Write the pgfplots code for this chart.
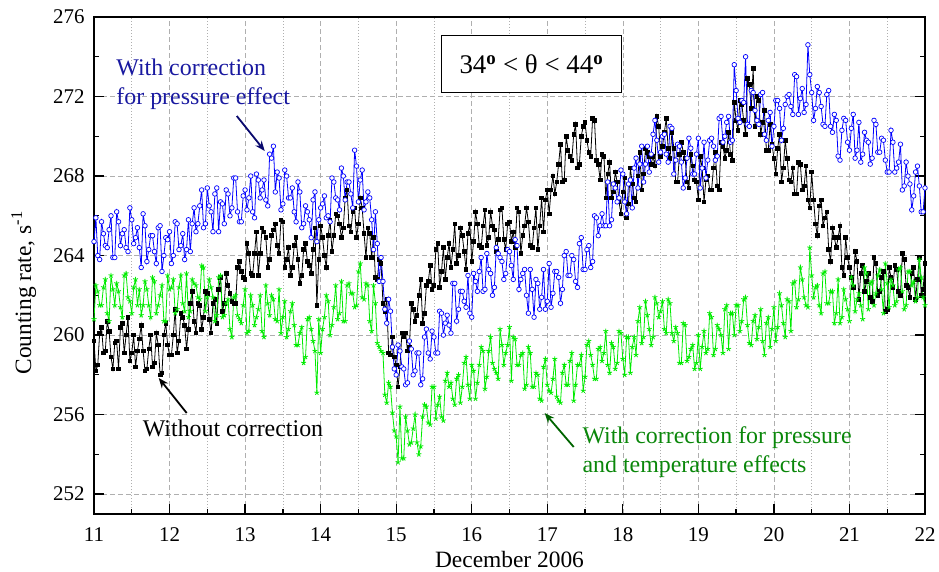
\documentclass[border=0pt]{standalone}
\usepackage{pgfplots}
\pgfplotsset{compat=1.18}
\usepackage{pgfplotstable}
\usepackage{fontspec}
\setmainfont{Liberation Serif}
\usetikzlibrary{arrows.meta}
\definecolor{gridgray}{RGB}{175,175,175}
\definecolor{annblue}{RGB}{25,25,160}
\definecolor{arrblue}{RGB}{10,10,110}
\definecolor{anngreen}{RGB}{10,135,10}
\definecolor{arrgreen}{RGB}{0,100,0}
\definecolor{serblue}{RGB}{0,0,255}
\definecolor{sergreen}{RGB}{0,235,0}

\pgfplotstableread{
x b u g
11.000 259.7 264.7 260.8
11.025 258.2 265.9 262.5
11.050 258.5 264.0 262.2
11.075 260.1 263.8 261.5
11.100 260.4 265.7 261.5
11.125 259.1 265.1 262.4
11.150 259.2 264.5 262.8
11.175 260.7 264.4 261.1
11.200 260.2 265.3 260.7
11.225 258.9 266.0 263.0
11.250 258.3 263.9 262.3
11.275 259.6 263.9 261.5
11.300 259.7 266.2 262.6
11.325 258.3 265.7 262.2
11.350 260.4 264.5 261.4
11.375 260.6 265.1 260.9
11.400 259.1 265.3 263.0
11.425 260.0 264.4 263.1
11.450 260.9 264.2 261.9
11.475 258.7 266.4 261.7
11.500 259.1 265.8 261.1
11.525 260.0 264.6 262.4
11.550 258.4 264.9 262.8
11.575 259.2 265.4 261.5
11.600 259.8 264.4 262.3
11.625 260.5 263.4 261.0
11.650 259.2 266.1 261.5
11.675 258.2 265.5 262.7
11.700 258.3 263.7 262.3
11.725 259.3 264.3 261.5
11.750 260.0 265.0 260.9
11.775 258.4 265.0 262.9
11.800 258.6 264.2 262.7
11.825 260.1 263.6 261.1
11.850 259.5 265.4 261.5
11.875 258.0 265.5 262.0
11.900 258.1 263.2 262.5
11.925 260.0 264.0 260.7
11.950 260.6 264.9 260.7
11.975 259.5 264.8 263.0
12.000 259.0 265.2 262.3
12.025 259.0 263.6 262.4
12.050 260.0 264.0 262.8
12.075 261.3 265.7 261.1
12.100 259.1 265.6 261.3
12.125 259.7 264.3 262.4
12.150 261.1 264.5 263.0
12.175 260.9 265.1 261.6
12.200 260.5 263.8 261.2
12.225 259.3 264.3 263.1
12.250 260.3 265.8 260.9
12.275 261.6 264.2 261.2
12.300 262.2 265.6 262.8
12.325 260.7 266.4 262.6
12.350 260.1 265.2 262.5
12.375 261.6 265.6 261.9
12.400 261.5 266.5 261.8
12.425 260.3 267.3 263.5
12.450 260.9 265.4 263.4
12.475 262.2 265.6 261.2
12.500 262.1 267.4 261.9
12.525 260.8 266.5 262.8
12.550 260.1 266.2 262.4
12.575 261.6 265.2 261.9
12.600 261.8 267.1 260.7
12.625 260.6 267.4 261.0
12.650 262.3 265.2 262.9
12.675 262.9 266.7 263.0
12.700 261.2 266.6 260.9
12.725 261.6 265.6 261.0
12.750 263.1 267.3 261.6
12.775 262.5 267.1 261.8
12.800 262.1 266.0 260.3
12.825 261.7 266.4 259.9
12.850 261.6 267.9 261.9
12.875 261.6 267.9 262.0
12.900 263.4 266.2 261.0
12.925 263.7 265.7 260.8
12.950 263.2 265.7 260.6
12.975 262.9 267.0 261.5
13.000 262.8 267.3 262.3
13.025 264.6 266.3 260.1
13.050 264.1 266.9 260.2
13.075 263.1 268.0 262.0
13.100 263.0 266.2 261.5
13.125 264.1 265.9 260.5
13.150 265.2 268.1 260.9
13.175 263.0 267.8 261.3
13.200 264.1 266.9 262.0
13.225 265.4 267.3 260.2
13.250 265.2 267.8 259.9
13.275 264.9 266.8 262.5
13.300 263.4 266.5 261.6
13.325 263.8 269.1 261.0
13.350 265.0 268.9 262.0
13.375 265.3 269.5 261.8
13.400 265.6 267.2 260.8
13.425 264.5 268.2 260.7
13.450 264.1 267.9 262.3
13.475 265.8 266.3 260.1
13.500 265.7 266.6 260.9
13.525 263.4 268.3 261.7
13.550 263.8 268.0 259.9
13.575 264.4 266.9 260.3
13.600 263.0 266.9 261.2
13.625 263.4 267.4 261.6
13.650 264.5 266.2 260.5
13.675 264.9 265.7 259.5
13.700 263.8 267.7 259.5
13.725 262.6 267.2 260.1
13.750 263.0 265.4 260.4
13.775 264.3 265.6 258.6
13.800 264.6 266.5 258.9
13.825 263.7 266.2 260.8
13.850 263.5 265.8 260.9
13.875 263.1 264.9 260.3
13.900 264.3 266.8 259.7
13.925 265.4 267.2 259.2
13.950 261.5 264.7 257.1
13.975 263.8 265.8 260.8
14.000 265.5 266.4 259.1
14.025 264.9 266.6 260.3
14.050 264.0 267.0 260.9
14.075 263.4 265.9 262.0
14.100 265.0 266.0 261.7
14.125 265.8 265.7 260.0
14.150 264.2 267.9 260.5
14.175 265.0 267.7 261.4
14.200 266.1 266.9 262.5
14.225 266.0 266.8 260.8
14.250 265.6 266.3 261.1
14.275 264.9 268.4 262.7
14.300 265.4 268.0 260.7
14.325 266.9 266.8 260.7
14.350 267.3 267.7 262.5
14.375 265.5 267.7 262.6
14.400 265.2 267.1 262.1
14.425 266.2 266.4 262.1
14.450 266.4 269.3 261.4
14.475 264.9 268.5 261.5
14.500 265.6 266.7 263.2
14.525 266.9 267.8 263.6
14.550 266.4 268.3 261.9
14.575 265.1 266.3 261.8
14.600 263.9 266.7 262.6
14.625 265.4 267.2 262.5
14.650 265.1 266.9 260.7
14.675 263.9 265.8 260.2
14.700 264.9 264.3 262.5
14.725 262.9 266.2 261.6
14.750 262.8 264.6 259.6
14.775 263.8 262.7 259.4
14.800 263.6 263.9 259.2
14.825 261.6 262.7 259.1
14.850 261.2 261.3 257.0
14.875 261.8 260.6 256.6
14.900 259.1 261.8 257.6
14.925 259.0 261.2 257.4
14.950 259.9 259.4 256.1
14.975 258.9 258.3 255.2
15.000 258.5 258.0 254.9
15.025 257.4 259.5 253.6
15.050 258.4 259.2 256.4
15.075 260.1 258.4 253.8
15.100 259.9 258.3 253.8
15.125 260.1 257.5 255.9
15.150 259.2 257.6 255.2
15.175 259.4 259.7 254.5
15.200 261.6 259.3 254.6
15.225 261.3 258.0 255.3
15.250 260.7 258.2 256.0
15.275 261.0 259.1 254.6
15.300 262.0 259.1 254.0
15.325 262.8 257.5 254.4
15.350 260.6 257.8 255.9
15.375 261.1 259.9 256.5
15.400 262.5 260.3 256.4
15.425 262.7 259.1 255.6
15.450 263.5 258.8 255.5
15.475 262.3 260.2 257.4
15.500 262.5 259.9 257.4
15.525 264.3 259.1 255.8
15.550 264.6 259.1 256.5
15.575 262.4 261.2 256.9
15.600 263.2 261.1 255.9
15.625 264.4 260.0 255.7
15.650 262.8 260.6 257.7
15.675 263.9 261.0 258.1
15.700 264.6 260.5 257.4
15.725 263.4 260.1 257.6
15.750 264.3 262.6 256.8
15.775 265.6 262.6 256.5
15.800 263.6 260.7 257.8
15.825 264.0 261.3 258.0
15.850 265.4 262.2 256.6
15.875 265.0 262.2 257.4
15.900 264.2 261.7 258.6
15.925 263.3 261.4 258.9
15.950 265.1 263.0 257.5
15.975 265.6 261.1 256.8
16.000 263.7 260.9 258.5
16.025 264.7 263.1 258.2
16.050 266.2 262.7 256.8
16.075 265.6 262.2 257.6
16.100 264.5 263.2 258.5
16.125 264.4 263.9 259.4
16.150 265.5 262.2 259.2
16.175 266.3 262.3 257.3
16.200 264.5 264.1 257.9
16.225 264.9 263.3 259.2
16.250 266.2 263.1 259.9
16.275 265.5 262.0 258.6
16.300 265.3 262.4 258.3
16.325 264.2 264.4 258.1
16.350 264.8 264.1 257.8
16.375 266.3 263.9 260.3
16.400 266.4 263.7 259.5
16.425 264.8 262.8 258.5
16.450 264.3 263.1 259.1
16.475 265.6 264.3 259.5
16.500 265.7 264.2 260.4
16.525 264.7 263.5 257.7
16.550 265.2 262.8 259.9
16.575 264.4 264.8 259.8
16.600 266.4 264.5 258.5
16.625 266.2 262.3 258.5
16.650 264.1 262.8 259.0
16.675 265.0 263.1 259.1
16.700 265.5 263.3 257.3
16.725 266.4 262.0 257.5
16.750 265.7 261.1 259.4
16.775 264.5 263.3 259.1
16.800 264.4 262.3 257.4
16.825 265.4 260.9 257.4
16.850 266.4 262.8 258.1
16.875 264.3 262.6 258.0
16.900 265.5 261.3 256.8
16.925 266.9 261.9 256.7
16.950 265.2 263.3 258.4
16.975 266.8 261.3 258.8
17.000 267.3 261.7 257.5
17.025 266.1 263.6 257.2
17.050 267.3 261.4 257.1
17.075 268.0 262.1 257.8
17.100 267.1 263.2 258.8
17.125 267.7 263.2 256.9
17.150 268.6 262.9 256.7
17.175 269.6 261.6 256.6
17.200 267.7 262.3 258.1
17.225 267.8 264.0 258.5
17.250 270.0 264.2 257.5
17.275 269.3 263.0 257.5
17.300 269.0 263.0 258.7
17.325 268.8 264.0 259.1
17.350 270.1 263.8 256.7
17.375 270.6 262.7 257.5
17.400 268.4 262.4 258.5
17.425 268.6 264.6 258.5
17.450 270.0 264.9 259.0
17.475 270.5 263.3 257.2
17.500 270.7 263.3 257.9
17.525 269.8 264.3 259.5
17.550 269.2 264.5 259.7
17.575 269.0 263.4 259.0
17.600 270.9 263.7 258.5
17.625 270.8 266.0 257.8
17.650 268.8 265.9 257.8
17.675 268.6 265.0 259.3
17.700 267.8 265.5 259.4
17.725 269.1 266.1 258.7
17.750 269.0 265.5 259.1
17.775 266.9 265.5 260.2
17.800 268.1 267.7 258.5
17.825 268.7 265.5 258.1
17.850 266.9 265.8 259.6
17.875 267.2 267.6 259.4
17.900 268.2 267.4 258.3
17.925 267.7 266.7 258.6
17.950 266.7 266.9 260.2
17.975 266.1 268.3 260.1
18.000 267.2 268.1 258.8
18.025 267.9 266.7 258.0
18.050 265.9 266.1 259.9
18.075 266.6 267.6 259.9
18.100 268.4 267.8 258.1
18.125 267.6 266.4 259.4
18.150 266.9 268.4 259.9
18.175 266.7 268.9 259.0
18.200 268.0 267.4 260.7
18.225 269.2 268.6 261.4
18.250 267.3 269.5 259.6
18.275 268.1 267.7 259.9
18.300 269.4 268.6 261.7
18.325 269.2 269.5 261.0
18.350 269.0 268.2 260.3
18.375 268.6 269.1 259.5
18.400 269.0 270.1 259.9
18.425 268.5 270.8 261.9
18.450 271.0 269.8 261.6
18.475 270.5 268.7 260.9
18.500 269.0 269.2 261.2
18.525 269.5 270.0 261.7
18.550 270.2 270.1 260.3
18.575 270.9 269.1 260.1
18.600 269.4 268.7 261.8
18.625 268.9 270.5 261.6
18.650 270.2 270.4 260.1
18.675 269.4 268.1 259.7
18.700 267.7 268.8 260.4
18.725 267.7 269.6 260.1
18.750 269.1 269.5 258.6
18.775 269.7 268.7 258.6
18.800 269.2 267.4 260.6
18.825 268.9 267.9 260.5
18.850 267.7 268.9 258.7
18.875 267.4 269.9 258.9
18.900 269.1 269.4 259.3
18.925 268.5 268.1 259.5
18.950 267.8 268.1 258.3
18.975 267.7 269.1 258.6
19.000 266.8 269.9 260.0
19.025 269.0 267.4 258.3
19.050 268.4 268.4 259.4
19.075 266.7 269.7 260.2
19.100 267.8 267.9 259.1
19.125 268.0 268.8 259.3
19.150 267.3 269.8 261.1
19.175 267.3 269.9 260.9
19.200 268.4 269.5 259.0
19.225 269.2 268.8 259.3
19.250 267.5 269.0 260.5
19.275 267.3 270.9 260.3
19.300 269.7 271.0 260.0
19.325 269.5 269.7 259.1
19.350 268.9 270.0 261.3
19.375 269.3 270.7 261.5
19.400 270.2 271.0 259.3
19.425 269.1 269.7 261.1
19.450 268.8 269.8 261.1
19.475 271.7 273.6 260.0
19.500 270.8 272.3 261.5
19.525 270.3 270.9 261.5
19.550 271.8 270.7 260.2
19.575 271.6 271.8 260.7
19.600 270.8 271.7 261.8
19.625 270.1 274.0 261.9
19.650 272.9 270.6 260.5
19.675 272.6 270.5 259.6
19.700 271.4 272.3 259.5
19.725 273.4 272.2 260.7
19.750 270.5 271.3 261.0
19.775 272.0 270.8 259.8
19.800 271.8 270.6 260.4
19.825 270.1 272.1 261.3
19.850 270.7 272.2 259.7
19.875 271.3 270.1 259.0
19.900 269.3 269.8 260.6
19.925 269.3 270.8 260.9
19.950 270.6 271.2 259.4
19.975 269.6 269.5 260.3
20.000 268.9 270.5 261.4
20.025 268.1 271.8 259.7
20.050 269.4 271.8 260.4
20.075 270.1 271.4 262.1
20.100 267.7 269.8 261.5
20.125 268.4 270.4 260.6
20.150 269.8 271.6 259.9
20.175 268.9 272.0 261.8
20.200 267.8 272.1 261.7
20.225 267.7 271.5 260.2
20.250 268.4 271.1 262.6
20.275 267.1 273.1 262.7
20.300 267.1 273.0 261.4
20.325 268.7 271.1 261.8
20.350 268.6 271.9 263.4
20.375 267.3 272.4 262.8
20.400 267.5 271.2 261.9
20.425 268.5 271.6 261.5
20.450 266.8 274.6 261.4
20.475 266.4 273.1 264.4
20.500 268.2 272.2 263.0
20.525 266.8 270.8 261.9
20.550 265.6 271.4 262.4
20.575 265.0 272.5 262.5
20.600 266.5 272.2 261.5
20.625 266.8 271.5 261.1
20.650 265.5 270.6 263.1
20.675 265.9 270.5 263.2
20.700 266.2 272.1 261.6
20.725 264.3 272.3 261.6
20.750 263.7 270.5 262.2
20.775 265.4 270.2 262.2
20.800 264.9 271.1 260.6
20.825 264.4 270.8 261.1
20.850 264.9 269.0 262.8
20.875 265.5 268.8 260.6
20.900 263.4 270.3 260.9
20.925 263.0 270.9 262.3
20.950 264.9 270.8 261.8
20.975 263.9 269.7 261.3
21.000 263.4 269.3 260.7
21.025 262.9 270.4 262.9
21.050 262.4 271.1 262.5
21.075 264.2 268.9 261.2
21.100 263.7 269.3 261.8
21.125 261.8 270.7 262.1
21.150 263.1 268.7 261.5
21.175 263.5 269.1 260.8
21.200 262.2 270.2 263.4
21.225 262.7 269.8 263.1
21.250 263.1 269.7 261.3
21.275 261.9 268.6 262.6
21.300 261.7 268.9 262.7
21.325 263.9 270.8 261.5
21.350 263.6 270.6 262.1
21.375 262.0 269.2 263.0
21.400 262.2 269.2 263.3
21.425 262.9 269.9 262.3
21.450 263.2 269.8 261.1
21.475 261.2 268.8 263.6
21.500 261.3 268.2 262.6
21.525 263.4 268.2 261.4
21.550 262.9 270.3 262.8
21.575 262.4 269.7 262.5
21.600 263.5 268.2 261.5
21.625 263.3 268.4 261.7
21.650 262.2 268.7 263.3
21.675 262.0 269.6 263.4
21.700 264.1 267.3 262.2
21.725 263.8 267.5 261.3
21.750 262.5 268.7 261.5
21.775 262.4 268.0 263.2
21.800 261.9 267.6 263.2
21.825 263.1 266.3 262.5
21.850 263.4 267.0 262.7
21.875 261.8 268.2 261.7
21.900 262.8 268.5 261.9
21.925 263.9 267.5 263.8
21.950 262.0 266.2 262.9
21.975 262.3 266.2 261.9
22.000 263.6 267.4 261.5
}\data

\begin{document}
\begin{tikzpicture}
\begin{axis}[
  at={(0,0)}, anchor=south west,
  scale only axis, width=831bp, height=497bp,
  xmin=11, xmax=22, ymin=251, ymax=276,
  xtick={11,12,...,22}, minor x tick num=1,
  ytick={252,256,...,276}, minor y tick num=1,
  xtick pos=bottom, ytick pos=both,
  tick align=inside,
  major tick length=10bp, minor tick length=5bp,
  every tick/.style={black, line width=1.3bp},
  axis line style={line width=1.5bp},
  xmajorgrids=true, ymajorgrids=true, xminorgrids=true, yminorgrids=false,
  major grid style={gridgray, line width=0.6bp, dash pattern=on 5bp off 3bp},
  minor grid style={gridgray, line width=0.6bp, dash pattern=on 1.2bp off 1.8bp},
  /pgf/number format/assume math mode=true,
  tick label style={font=\fontsize{21}{21}\selectfont},
  xticklabel style={yshift=-10bp},
  yticklabel style={xshift=-6bp},
  label style={font=\fontsize{23.5}{23.5}\selectfont},
  xlabel={December 2006},
  xlabel style={at={(axis description cs:0.5,0)}, anchor=center, yshift=-45bp},
  ylabel={Counting rate, s\textsuperscript{-1}},
  ylabel style={at={(axis description cs:-0.0845,0.445)}, anchor=center},
]
\addplot[black, line width=0.8bp, mark=square*, mark size=1.8bp, mark options={solid, fill=black}] table[x=x, y=b] {\data};
\addplot[sergreen, line width=0.8bp, mark=star, mark size=2.6bp, mark options={solid, line width=0.8bp}] table[x=x, y=g] {\data};
\addplot[serblue, line width=0.8bp, mark=*, mark size=2.3bp, mark options={solid, fill=white, draw=serblue, line width=0.7bp}] table[x=x, y=u] {\data};

% annotation box
\draw[black, line width=0.8bp, fill=white] (axis cs:15.6,272.23) rectangle (axis cs:17.985,275.09);
\node[font=\fontsize{27}{27}\selectfont] at (axis cs:16.79,273.62) {34\textsuperscript{\textbf{o}} < θ < 44\textsuperscript{\textbf{o}}};

% blue annotation
\node[annblue, anchor=west, align=left, font=\fontsize{24}{29}\selectfont] at (axis cs:11.25,272.6) {With correction\\for pressure effect};
\draw[arrblue, line width=1.8bp, -{Stealth[length=10bp,width=8bp]}] (axis cs:12.89,271.02) -- (axis cs:13.26,269.26);

% black annotation
\node[black, anchor=center, font=\fontsize{24}{29}\selectfont] at (axis cs:12.84,255.33) {Without correction};
\draw[black, line width=1.8bp, -{Stealth[length=10bp,width=8bp]}] (axis cs:12.227,256.08) -- (axis cs:11.857,257.84);

% green annotation
\node[anngreen, anchor=west, align=left, font=\fontsize{24}{29}\selectfont] at (axis cs:17.42,254.09) {With correction for pressure\\and temperature effects};
\draw[arrgreen, line width=1.8bp, -{Stealth[length=10bp,width=8bp]}] (axis cs:17.35,254.37) -- (axis cs:16.966,256.08);
\end{axis}
\pgfresetboundingbox
\path[use as bounding box] (-94bp,-58bp) rectangle (845bp,514bp);
\end{tikzpicture}
\end{document}
